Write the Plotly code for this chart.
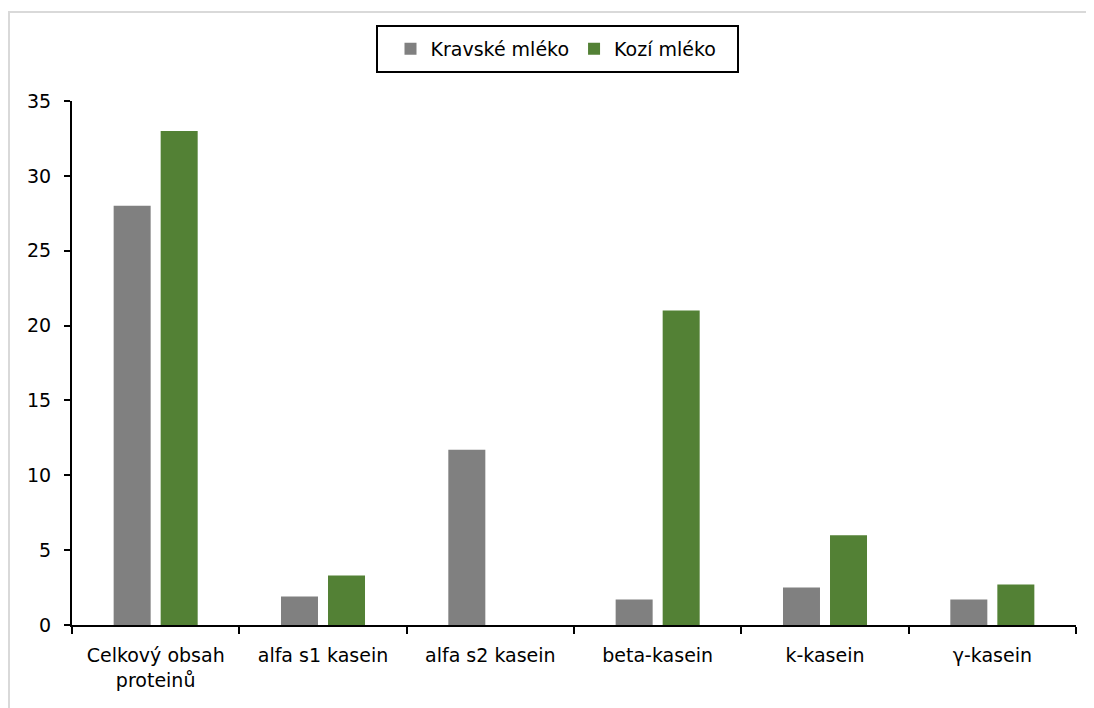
import plotly.graph_objects as go

categories = ["Celkový obsah<br>proteinů", "alfa s1 kasein", "alfa s2 kasein",
              "beta-kasein", "k-kasein", "γ-kasein"]
kravske = [28, 1.9, 11.7, 1.7, 2.5, 1.7]
kozi = [33, 3.3, None, 21, 6, 2.7]
series_names = ["Kravské mléko", "Kozí mléko"]
y_ticks = [0, 5, 10, 15, 20, 25, 30, 35]

FONT = "DejaVu Sans"
W, H = 1094, 708
OFF = 8  # page body margin
# target screen positions of the plot area
SX0, SX1, SY0, SY1 = 72, 1076, 101, 625
L = SX0 - OFF
R = W - (SX1 - OFF)
T = SY0 - OFF
B = H - (SY1 - OFF)


def px(sx):
    return (sx - SX0) / (SX1 - SX0)


def py(sy):
    return (SY1 - sy) / (SY1 - SY0)


fig = go.Figure()
fig.add_trace(go.Bar(x=categories, y=kravske, name=series_names[0],
                     marker=dict(color="#808080", line=dict(width=0))))
fig.add_trace(go.Bar(x=categories, y=kozi, name=series_names[1],
                     marker=dict(color="#538135", line=dict(width=0))))

# outer chart frame
fig.add_shape(type="rect", xref="paper", yref="paper",
              x0=px(9), x1=px(1120), y0=py(740), y1=py(12),
              line=dict(color="#d9d9d9", width=2), fillcolor="rgba(0,0,0,0)",
              layer="below")
# legend box
fig.add_shape(type="rect", xref="paper", yref="paper",
              x0=px(377), x1=px(738), y0=py(72), y1=py(26),
              line=dict(color="#000000", width=2), fillcolor="white",
              layer="below")

fig.update_layout(
    width=W, height=H,
    margin=dict(l=L, r=R, t=T, b=B),
    paper_bgcolor="white", plot_bgcolor="white",
    font=dict(family=FONT, size=19, color="#000000"),
    barmode="group", bargap=0.438, bargroupgap=0.213,
    showlegend=True,
    legend=dict(orientation="h", xref="container", yref="container",
                x=(556 - OFF) / W, xanchor="center",
                y=1 - (49 - OFF) / H, yanchor="middle",
                borderwidth=0, bgcolor="rgba(0,0,0,0)",
                font=dict(family=FONT, size=19, color="#000000")),
    xaxis=dict(type="category", range=[-0.5, 5.5], showline=True,
               linecolor="#000000", linewidth=2, ticks="outside",
               tickson="boundaries", ticklen=7, tickwidth=1.5,
               tickcolor="#000000", showgrid=False, zeroline=False,
               ticklabelstandoff=12,
               tickfont=dict(family=FONT, size=19, color="#000000")),
    yaxis=dict(range=[0, 35], tickvals=y_ticks, showline=True,
               linecolor="#000000", linewidth=2, ticks="outside",
               ticklen=6, tickwidth=1.5, tickcolor="#000000",
               showgrid=False, zeroline=False, ticklabelstandoff=9,
               tickfont=dict(family=FONT, size=19, color="#000000")),
)

fig.write_html("out.html")
